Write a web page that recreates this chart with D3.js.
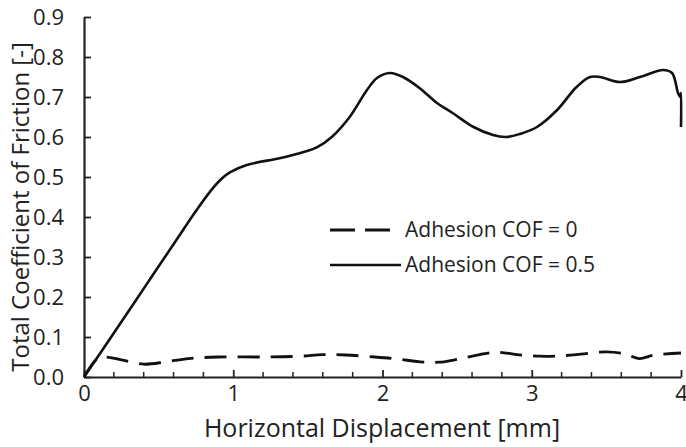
<!DOCTYPE html>
<html>
<head>
<meta charset="utf-8">
<script src="https://cdn.jsdelivr.net/npm/d3@7"></script>
<style>
body { margin: 0; background: #fff; }
text { font-family: "Open Sans", sans-serif; fill: #222; }
</style>
</head>
<body>
<script>
// solid curve: adhesion COF = 0.5
var solidX = [0, 0.2, 0.4, 0.6, 0.75, 0.85, 0.92, 0.98, 1.09, 1.31, 1.45, 1.56, 1.66, 1.78, 1.896, 1.963, 2.05, 2.137, 2.25, 2.365, 2.47, 2.61, 2.74, 2.83, 2.92, 3.035, 3.17, 3.3, 3.39, 3.457, 3.59, 3.725, 3.88, 3.94, 3.98, 3.995, 4.0, 4.0];
var solidY = [0, 0.11, 0.221, 0.332, 0.415, 0.466, 0.495, 0.512, 0.53, 0.547, 0.56, 0.574, 0.6, 0.65, 0.7175, 0.7475, 0.76, 0.75, 0.722, 0.685, 0.66, 0.625, 0.605, 0.6, 0.6075, 0.625, 0.6675, 0.725, 0.75, 0.75, 0.7375, 0.75, 0.7675, 0.76, 0.71, 0.7, 0.71, 0.625];
// dashed curve: adhesion COF = 0
var dashX = [0, 0.1, 0.15, 0.25, 0.4, 0.55, 0.7, 0.9, 1.2, 1.45, 1.6, 1.75, 1.95, 2.1, 2.25, 2.38, 2.5, 2.65, 2.77, 2.9, 3.05, 3.2, 3.35, 3.5, 3.62, 3.72, 3.82, 4.0];
var dashY = [0, 0.05, 0.05, 0.043, 0.032, 0.038, 0.046, 0.05, 0.05, 0.052, 0.056, 0.055, 0.05, 0.045, 0.038, 0.037, 0.044, 0.056, 0.062, 0.056, 0.052, 0.053, 0.058, 0.063, 0.058, 0.046, 0.055, 0.06];

var xTicks = [0, 1, 2, 3, 4];
var xMinor = d3.range(0, 21).map(function(i){ return i * 0.2; });
var yTicks = [0, 0.1, 0.2, 0.3, 0.4, 0.5, 0.6, 0.7, 0.8, 0.9];
var legendLabels = ["Adhesion COF = 0", "Adhesion COF = 0.5"];

var width = 686, height = 447;
var svg = d3.select("body").append("svg")
  .attr("width", width)
  .attr("height", height);

var xScale = d3.scaleLinear().domain([0, 4]).range([84, 681]);
var yScale = d3.scaleLinear().domain([0, 0.9]).range([377, 17]);

var line = d3.line()
  .x(function(d){ return xScale(d[0]); })
  .y(function(d){ return yScale(d[1]); })
  .curve(d3.curveCatmullRom.alpha(0.5));

// x axis: ticks point up into the plot
var xAxis = d3.axisBottom(xScale).tickValues(xTicks).tickSizeInner(-7).tickSizeOuter(0)
  .tickFormat(d3.format("d")).tickPadding(14);
var gx = svg.append("g")
  .attr("transform", "translate(0," + yScale(0) + ")")
  .call(xAxis);
gx.selectAll(".minor")
  .data(xMinor.filter(function(v){ return Math.abs(v - Math.round(v)) > 1e-6; }))
  .enter().append("line")
  .attr("class", "minor")
  .attr("x1", function(d){ return xScale(d); })
  .attr("x2", function(d){ return xScale(d); })
  .attr("y1", 0).attr("y2", -5)
  .attr("stroke", "#222").attr("stroke-width", 1.5);

var yAxis = d3.axisLeft(yScale).tickValues(yTicks).tickSizeInner(-7).tickSizeOuter(0)
  .tickFormat(d3.format(".1f")).tickPadding(20);
var gy = svg.append("g")
  .attr("transform", "translate(" + xScale(0) + ",0)")
  .call(yAxis);

svg.selectAll(".domain").attr("stroke", "#222").attr("stroke-width", 2.2);
svg.selectAll(".tick line").attr("stroke", "#222").attr("stroke-width", 1.8);
svg.selectAll(".tick text").style("font-size", "22px").attr("fill", "#222");
gx.selectAll(".tick text").attr("y", 8);

// curves
svg.append("path")
  .datum(d3.zip(dashX, dashY))
  .attr("d", line)
  .attr("fill", "none")
  .attr("stroke", "#111")
  .attr("stroke-width", 2.8)
  .attr("stroke-dasharray", "22,11");

svg.append("path")
  .datum(d3.zip(solidX, solidY))
  .attr("d", line)
  .attr("fill", "none")
  .attr("stroke", "#111")
  .attr("stroke-width", 2.6);

// axis titles
svg.append("text")
  .attr("x", 382).attr("y", 437)
  .attr("text-anchor", "middle")
  .style("font-size", "25px")
  .text("Horizontal Displacement [mm]");

svg.append("text")
  .attr("transform", "translate(29,207) rotate(-90)")
  .attr("text-anchor", "middle")
  .style("font-size", "24px")
  .text("Total Coefficient of Friction [-]");

// legend
var legend = svg.append("g");
legend.append("line")
  .attr("x1", 330).attr("x2", 390).attr("y1", 230).attr("y2", 230)
  .attr("stroke", "#111").attr("stroke-width", 2.8)
  .attr("stroke-dasharray", "25,10");
legend.append("line")
  .attr("x1", 330).attr("x2", 401).attr("y1", 265).attr("y2", 265)
  .attr("stroke", "#111").attr("stroke-width", 2.6);
legend.selectAll("text.leg")
  .data(legendLabels)
  .enter().append("text")
  .attr("class", "leg")
  .attr("x", 405)
  .attr("y", function(d, i){ return 230 + i * 35; })
  .attr("dy", "0.35em")
  .style("font-size", "21px")
  .text(function(d){ return d; });
</script>
</body>
</html>
